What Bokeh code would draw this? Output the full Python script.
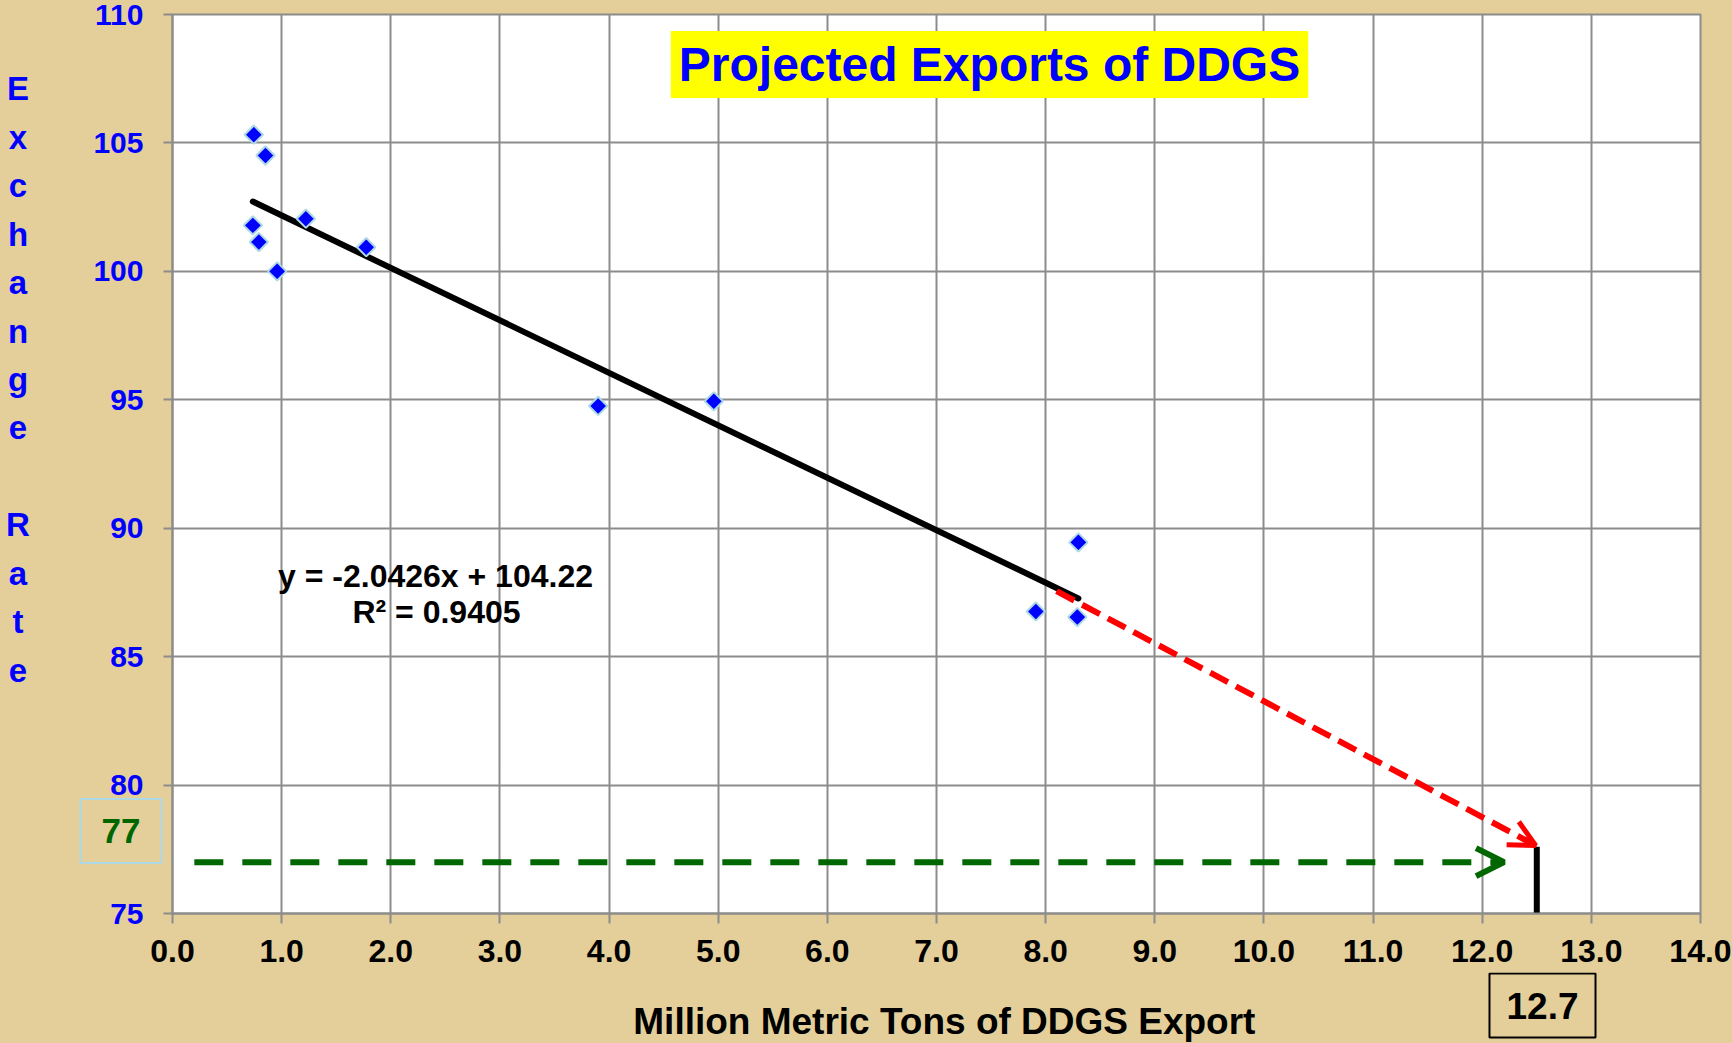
import numpy as np
from bokeh.plotting import figure
from bokeh.layouts import column
from bokeh.models import Range1d, FixedTicker, PrintfTickFormatter, Label, Arrow, OpenHead
from bokeh.embed import file_html
from bokeh.resources import INLINE

# ---------------- data ----------------
export_mmt = [0.745, 0.852, 1.222, 0.736, 0.791, 0.959, 1.775, 3.90, 4.96, 8.30, 7.91, 8.29]
exchange_rate = [105.32, 104.51, 102.05, 101.79, 101.14, 100.00, 100.94, 94.76, 94.94, 89.45, 86.76, 86.54]

trend_slope = -2.0426
trend_intercept = 104.22
trend_r2 = 0.9405
trend_x = [0.736, 8.30]
trend_y = [trend_slope * v + trend_intercept for v in trend_x]

proj_rate = 77
proj_export_label = "12.7"
proj_mark_x = [12.5, 12.5]
proj_mark_y = [75, 77.6]
red_arrow_x = [8.1, 12.49]
red_arrow_y = [87.55, 77.65]
green_arrow_x = [0.2, 12.2]
green_arrow_y = [proj_rate, proj_rate]

x_ticks = list(range(0, 15))
y_ticks = list(range(75, 111, 5))

title_text = "Projected Exports of DDGS"
x_title = "Million Metric Tons of DDGS  Export"
y_title = "Exchange Rate"

# ---------------- layout helpers ----------------
TAN = "#E4CF9B"
GRID = "#8C8C8C"
FONT = "Liberation Sans"
W, H = 1732, 1043
X0, X1, Y0, Y1 = 0, 14, 75, 110
FL, FT, FW, FH = 172, 14, 1528, 899   # frame in page pixels
MAIN_H = 972                           # main figure height; a text strip fills the rest
PXX = FW / (X1 - X0)
PXY = FH / (Y1 - Y0)


def dx(px):
    return X0 + (px - FL) / PXX


def dy(py):
    return Y1 - (py - FT) / PXY


p = figure(width=W, height=MAIN_H, output_backend="svg", toolbar_location=None,
           x_range=Range1d(X0, X1), y_range=Range1d(Y0, Y1))
p.min_border_left = FL
p.min_border_right = W - FL - FW
p.min_border_top = FT
p.min_border_bottom = MAIN_H - FT - FH
p.background_fill_color = "white"
p.border_fill_color = TAN
p.outline_line_color = GRID
p.outline_line_width = 2

for ax in (p.xaxis, p.yaxis):
    ax.axis_line_color = GRID
    ax.axis_line_width = 2
    ax.major_tick_line_color = GRID
    ax.major_tick_line_width = 2
    ax.major_tick_in = 0
    ax.minor_tick_line_color = None
    ax.major_label_text_font = FONT
    ax.major_label_text_font_style = "bold"

p.xaxis.ticker = FixedTicker(ticks=x_ticks)
p.xaxis.formatter = PrintfTickFormatter(format="%.1f")
p.xaxis.major_tick_out = 10
p.xaxis.major_label_standoff = 16
p.xaxis.major_label_text_font_size = "32px"
p.xaxis.major_label_text_color = "black"

p.yaxis.ticker = FixedTicker(ticks=y_ticks)
p.yaxis.major_tick_out = 9
p.yaxis.major_label_standoff = 20
p.yaxis.major_label_text_font_size = "30px"
p.yaxis.major_label_text_color = "#0000FF"

p.xgrid.ticker = FixedTicker(ticks=x_ticks)
p.ygrid.ticker = FixedTicker(ticks=y_ticks)
for g in (p.xgrid, p.ygrid):
    g.grid_line_color = GRID
    g.grid_line_width = 2

# trend line
p.line(trend_x, trend_y, line_color="black", line_width=6, line_cap="round")

# points
p.scatter(export_mmt, exchange_rate, marker="square", angle=np.pi / 4, size=13,
          fill_color="#0000FF", line_color="#ADD8E6", line_width=2)

# projection arrows
p.add_layout(Arrow(x_start=red_arrow_x[0], y_start=red_arrow_y[0],
                   x_end=red_arrow_x[1], y_end=red_arrow_y[1],
                   line_color="red", line_width=6, line_dash="20 9",
                   end=OpenHead(size=26, line_color="red", line_width=5)))
p.add_layout(Arrow(x_start=green_arrow_x[0], y_start=green_arrow_y[0],
                   x_end=green_arrow_x[1], y_end=green_arrow_y[1],
                   line_color="#006600", line_width=6, line_dash="29 19",
                   end=OpenHead(size=28, line_color="#006600", line_width=6)))
p.line(proj_mark_x, proj_mark_y, line_color="black", line_width=6)

# title box
p.add_layout(Label(x=dx(989), y=dy(64), text=title_text, text_align="center",
                   text_baseline="middle", text_font=FONT, text_font_style="bold",
                   text_font_size="48px", text_color="#0000FF",
                   background_fill_color="yellow",
                   padding=dict(left=8, right=8, top=7, bottom=7)))

# regression equation
p.add_layout(Label(x=dx(435), y=dy(575), text=f"y = {trend_slope}x + {trend_intercept}",
                   text_align="center", text_baseline="middle", text_font=FONT,
                   text_font_style="bold", text_font_size="32px", text_color="black"))
p.add_layout(Label(x=dx(436), y=dy(611), text=f"R\u00b2 = {trend_r2}",
                   text_align="center", text_baseline="middle", text_font=FONT,
                   text_font_style="bold", text_font_size="32px", text_color="black"))

# 77 box (outside the frame: placed in a side panel so that it is not clipped)
p.add_layout(Label(x=dx(120.5), y=dy(830.5), text=str(proj_rate), text_align="center",
                   text_baseline="middle", text_font=FONT, text_font_style="bold",
                   text_font_size="35px", text_color="#006600",
                   border_line_color="#ADD8E6", border_line_width=2,
                   padding=dict(left=21, right=21, top=20, bottom=20)), "left")

# y axis title: stacked letters
p.add_layout(Label(x=dx(17.5), y=dy(379), text="\n".join(y_title),
                   text_align="center", text_baseline="middle", text_font=FONT,
                   text_font_style="bold", text_font_size="33px", text_color="#0000FF",
                   text_line_height=1.31), "right")

# ---------------- bottom text strip (shares the x scale) ----------------
STRIP_H = H - MAIN_H
s = figure(width=W, height=STRIP_H, output_backend="svg", toolbar_location=None,
           x_range=p.x_range, y_range=Range1d(0, STRIP_H),
           x_axis_type=None, y_axis_type=None)
s.min_border_left = FL
s.min_border_right = W - FL - FW
s.min_border_top = 0
s.min_border_bottom = 0
s.background_fill_color = TAN
s.border_fill_color = TAN
s.outline_line_color = None
s.grid.visible = False


def sy(py):
    return H - py


s.add_layout(Label(x=dx(949), y=sy(1021), text=x_title, text_align="center",
                   text_baseline="middle", text_font=FONT, text_font_style="bold",
                   text_font_size="37px", text_color="black"))
s.add_layout(Label(x=dx(1542), y=sy(1005), text=proj_export_label, text_align="center",
                   text_baseline="middle", text_font=FONT, text_font_style="bold",
                   text_font_size="37px", text_color="black",
                   border_line_color="black", border_line_width=2,
                   padding=dict(left=17, right=17, top=19, bottom=19)))

layout = column(p, s, spacing=0)
html = file_html(layout, INLINE)
html = html.replace("</head>",
                    f"<style>html, body {{ background-color: {TAN} !important; }}</style></head>", 1)
open("out.html", "w").write(html)
